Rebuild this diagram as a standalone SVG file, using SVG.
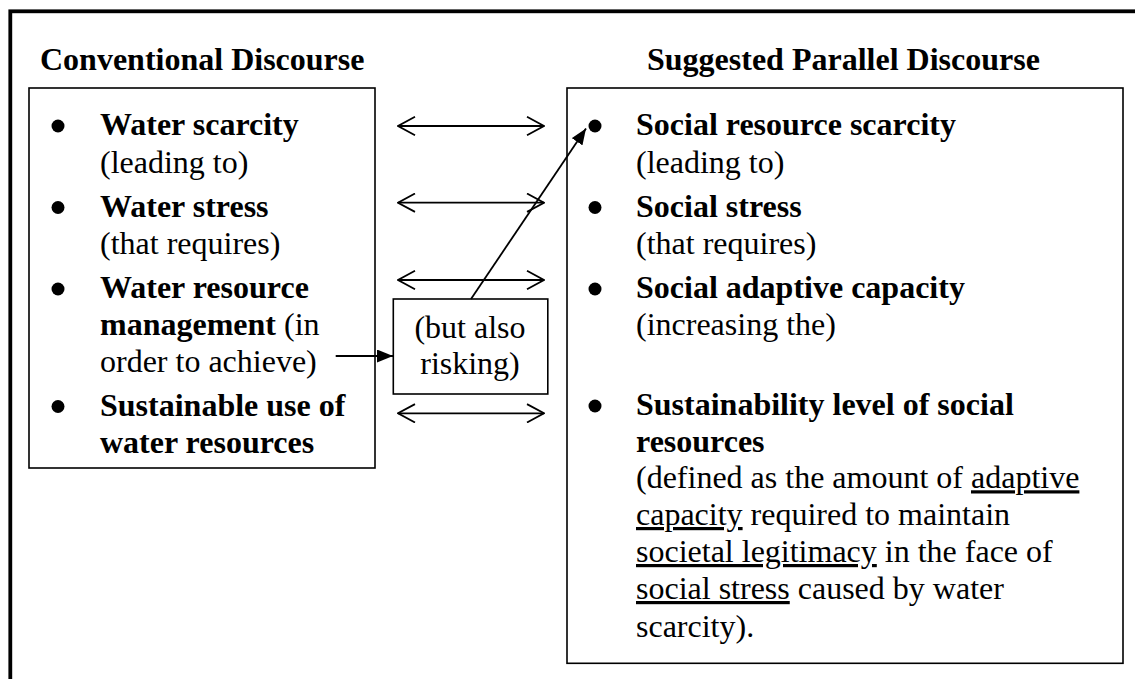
<svg xmlns="http://www.w3.org/2000/svg" width="1135" height="679" viewBox="0 0 1135 679">
<style>
text{font-family:"Liberation Serif","Times New Roman",serif;font-size:32px;fill:#000}
.b{font-weight:bold}
.u{text-decoration:underline}
.m{text-anchor:middle}
.box{fill:#fff;stroke:#000;stroke-width:1.6}
.ln{stroke:#000;stroke-width:1.8;fill:none}
</style>
<defs>
<marker id="open" viewBox="0 0 19 20" refX="18" refY="10" markerWidth="19" markerHeight="20" markerUnits="userSpaceOnUse" orient="auto-start-reverse">
<path d="M1,0.8 L18,10 L1,19.2" fill="none" stroke="#000" stroke-width="1.8"/>
</marker>
<marker id="solid" viewBox="0 0 16 13" refX="16" refY="6.5" markerWidth="16" markerHeight="13" markerUnits="userSpaceOnUse" orient="auto">
<path d="M0,0 L16,6.5 L0,13 z" fill="#000"/>
</marker>
</defs>
<rect width="1135" height="679" fill="#fff"/>
<rect id="frame" x="10.3" y="11.3" width="1200" height="800" fill="none" stroke="#000" stroke-width="3.8"/>

<g id="title-left">
<text class="b" x="40" y="70">Conventional Discourse</text>
</g>
<g id="title-right">
<text class="b" x="647" y="70">Suggested Parallel Discourse</text>
</g>

<g id="box-left">
<rect class="box" x="29" y="88" width="346" height="380"/>
<circle cx="58" cy="126" r="6.5"/>
<circle cx="58" cy="207.5" r="6.5"/>
<circle cx="58" cy="289" r="6.5"/>
<circle cx="58" cy="406.5" r="6.5"/>
<text class="b" x="100" y="135">Water scarcity</text>
<text x="100" y="172.5">(leading to)</text>
<text class="b" x="100" y="216.7">Water stress</text>
<text x="100" y="254">(that requires)</text>
<text class="b" x="100" y="298.3">Water resource</text>
<text x="100" y="335"><tspan class="b">management</tspan> (in</text>
<text x="100" y="371.7">order to achieve)</text>
<text class="b" x="100" y="416">Sustainable use of</text>
<text class="b" x="100" y="452.7">water resources</text>
</g>

<g id="box-middle">
<rect class="box" x="393.3" y="299" width="154.5" height="95"/>
<text class="m" x="470" y="338.3">(but also</text>
<text class="m" x="470" y="374">risking)</text>
</g>

<g id="box-right">
<rect class="box" x="567" y="88" width="556" height="575.3"/>
<circle cx="595" cy="126" r="6.5"/>
<circle cx="595" cy="207.5" r="6.5"/>
<circle cx="595" cy="289" r="6.5"/>
<circle cx="595" cy="406" r="6.5"/>
<text class="b" x="636" y="135">Social resource scarcity</text>
<text x="636" y="172.5">(leading to)</text>
<text class="b" x="636" y="216.7">Social stress</text>
<text x="636" y="254">(that requires)</text>
<text class="b" x="636" y="298.3">Social adaptive capacity</text>
<text x="636" y="335">(increasing the)</text>
<text class="b" x="636" y="415">Sustainability level of social</text>
<text class="b" x="636" y="451.7">resources</text>
<text x="636" y="488.3">(defined as the amount of <tspan class="u">adaptive</tspan></text>
<text x="636" y="525"><tspan class="u">capacity</tspan> required to maintain</text>
<text x="636" y="562"><tspan class="u">societal legitimacy</tspan> in the face of</text>
<text x="636" y="599"><tspan class="u">social stress</tspan> caused by water</text>
<text x="636" y="636.5">scarcity).</text>
</g>

<g id="connectors">
<line class="ln" x1="398" y1="126" x2="544" y2="126" marker-start="url(#open)" marker-end="url(#open)"/>
<line class="ln" x1="398" y1="202.7" x2="544" y2="202.7" marker-start="url(#open)" marker-end="url(#open)"/>
<line class="ln" x1="398" y1="280" x2="544" y2="280" marker-start="url(#open)" marker-end="url(#open)"/>
<line class="ln" x1="398" y1="413.3" x2="544" y2="413.3" marker-start="url(#open)" marker-end="url(#open)"/>
<line class="ln" x1="471" y1="299" x2="586" y2="128.5" marker-end="url(#solid)"/>
<line class="ln" x1="335.7" y1="356" x2="393" y2="356" marker-end="url(#solid)"/>
</g>
</svg>
